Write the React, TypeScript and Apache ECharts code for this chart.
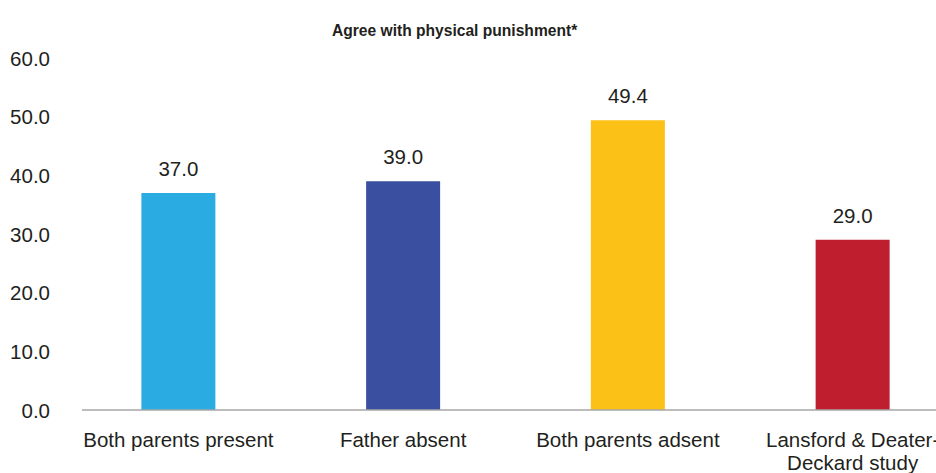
import React, { useEffect, useRef } from "react";
import * as echarts from "echarts";

const categories = [
  "Both parents present",
  "Father absent",
  "Both parents adsent",
  "Lansford & Deater-\nDeckard study",
];
const values = [37.0, 39.0, 49.4, 29.0];
const barColors = ["#2AACE2", "#3A4FA0", "#FCC116", "#BE1E2D"];
const yTicks = { min: 0, max: 60, interval: 10 };
const titleText = "Agree with physical punishment*";

export default function App() {
  const ref = useRef<HTMLDivElement>(null);
  useEffect(() => {
    if (!ref.current) return;
    const chart = echarts.init(ref.current, null, { renderer: "svg" });
    const font = "Liberation Sans, Arial, sans-serif";
    chart.setOption({
      animation: false,
      backgroundColor: "#ffffff",
      title: {
        text: titleText,
        left: 332,
        top: 22,
        padding: 0,
        textStyle: { fontFamily: font, fontSize: 15.6, fontWeight: "bold", color: "#231F20" },
      },
      grid: { left: 66, top: 58, width: 899, height: 352, outerBoundsMode: "none", containLabel: false },
      xAxis: {
        type: "category",
        data: categories,
        axisLine: { show: false },
        axisTick: { show: false },
        axisLabel: {
          interval: 0,
          margin: 18,
          color: "#231F20",
          fontFamily: font,
          fontSize: 20.5,
          lineHeight: 23,
        },
      },
      yAxis: {
        type: "value",
        min: yTicks.min,
        max: yTicks.max,
        interval: yTicks.interval,
        splitLine: { show: false },
        axisLine: { show: false },
        axisTick: { show: false },
        axisLabel: {
          margin: 16,
          color: "#231F20",
          fontFamily: font,
          fontSize: 20.5,
          formatter: (v: number) => v.toFixed(1),
        },
      },
      series: [
        {
          type: "bar",
          barWidth: 74,
          data: values.map((v, i) => ({ value: v, itemStyle: { color: barColors[i] } })),
          label: {
            show: true,
            position: "top",
            distance: 14,
            color: "#231F20",
            fontFamily: font,
            fontSize: 20.5,
            formatter: (p: any) => Number(p.value).toFixed(1),
          },
        },
      ],
      graphic: [
        {
          type: "line",
          shape: { x1: 82, y1: 410, x2: 936, y2: 410 },
          style: { stroke: "#A6A6A6", lineWidth: 1.5 },
          z: 10,
        },
      ],
    });
    return () => chart.dispose();
  }, []);
  return <div ref={ref} style={{ width: 936, height: 473, position: "absolute", left: 0, top: 0 }} />;
}
